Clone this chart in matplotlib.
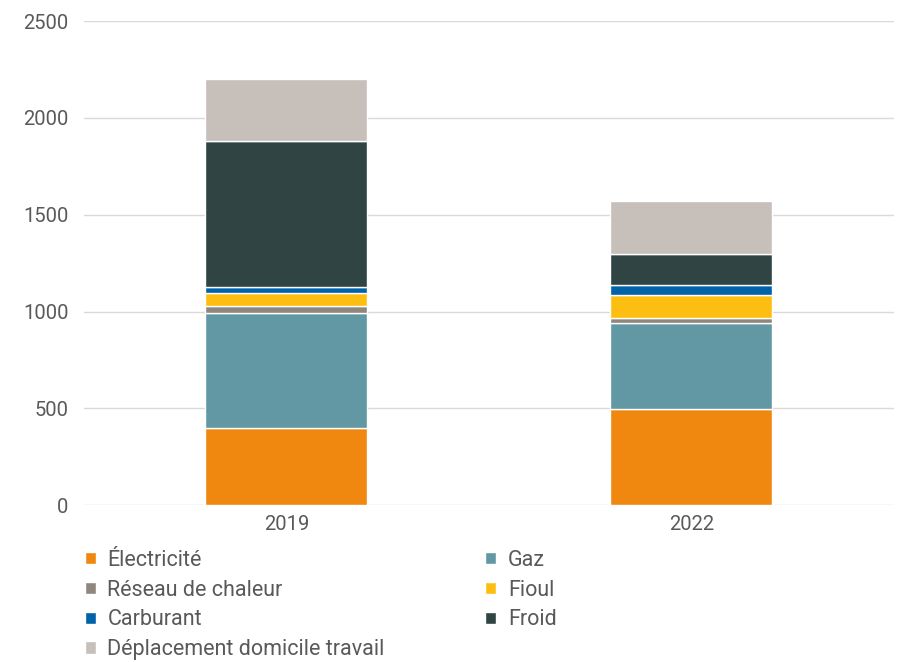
import numpy as np
import matplotlib.pyplot as plt

plt.rcParams['font.family'] = ['Roboto', 'DejaVu Sans']

years = ["2019", "2022"]
series = ["Électricité", "Gaz", "Réseau de chaleur", "Fioul", "Carburant", "Froid",
          "Déplacement domicile travail"]
electricite = [397, 494]
gaz = [598, 446]
reseau = [32, 27]
fioul = [67, 116]
carburant = [31, 53]
froid = [758, 163]
deplacement = [316, 274]
values = [electricite, gaz, reseau, fioul, carburant, froid, deplacement]
colors = ["#F0870F", "#6298A4", "#8F877D", "#FDBE12", "#0063A9", "#2F4443", "#C7BFBA"]

fig = plt.figure(figsize=(9.03, 6.62), dpi=100)
ax = fig.add_axes([0.093, 0.237, 0.897, 0.731])

x = np.arange(len(years))
bottom = np.zeros(len(years))
handles = []
for name, vals, col in zip(series, values, colors):
    b = ax.bar(x, vals, 0.4, bottom=bottom, color=col, edgecolor="white",
               linewidth=1, label=name, zorder=3)
    handles.append(b)
    bottom += np.array(vals)

ax.set_xlim(-0.5, 1.5)
ax.set_ylim(0, 2500)
ax.set_yticks(np.arange(0, 2501, 500))
ax.set_xticks(x)
ax.set_xticklabels(years)
ax.grid(axis="y", color="#d9d9d9", linewidth=1, zorder=0)
for s in ax.spines.values():
    s.set_visible(False)
ax.tick_params(axis="y", length=0, pad=11, labelsize=14.5, labelcolor="#595959")
ax.tick_params(axis="x", length=0, pad=7, labelsize=14.5, labelcolor="#595959")

order = [0, 2, 4, 6, 1, 3, 5]
leg = fig.legend([handles[i] for i in order], [series[i] for i in order],
                 ncol=2, loc="upper left", bbox_to_anchor=(0.094, 0.1695),
                 frameon=False, fontsize=15.5, handlelength=0.5, handleheight=0.5,
                 handletextpad=0.55, columnspacing=4.67, labelspacing=0.41,
                 borderaxespad=0, borderpad=0)
for t in leg.get_texts():
    t.set_color("#595959")

fig.savefig("out.png", dpi=100)
